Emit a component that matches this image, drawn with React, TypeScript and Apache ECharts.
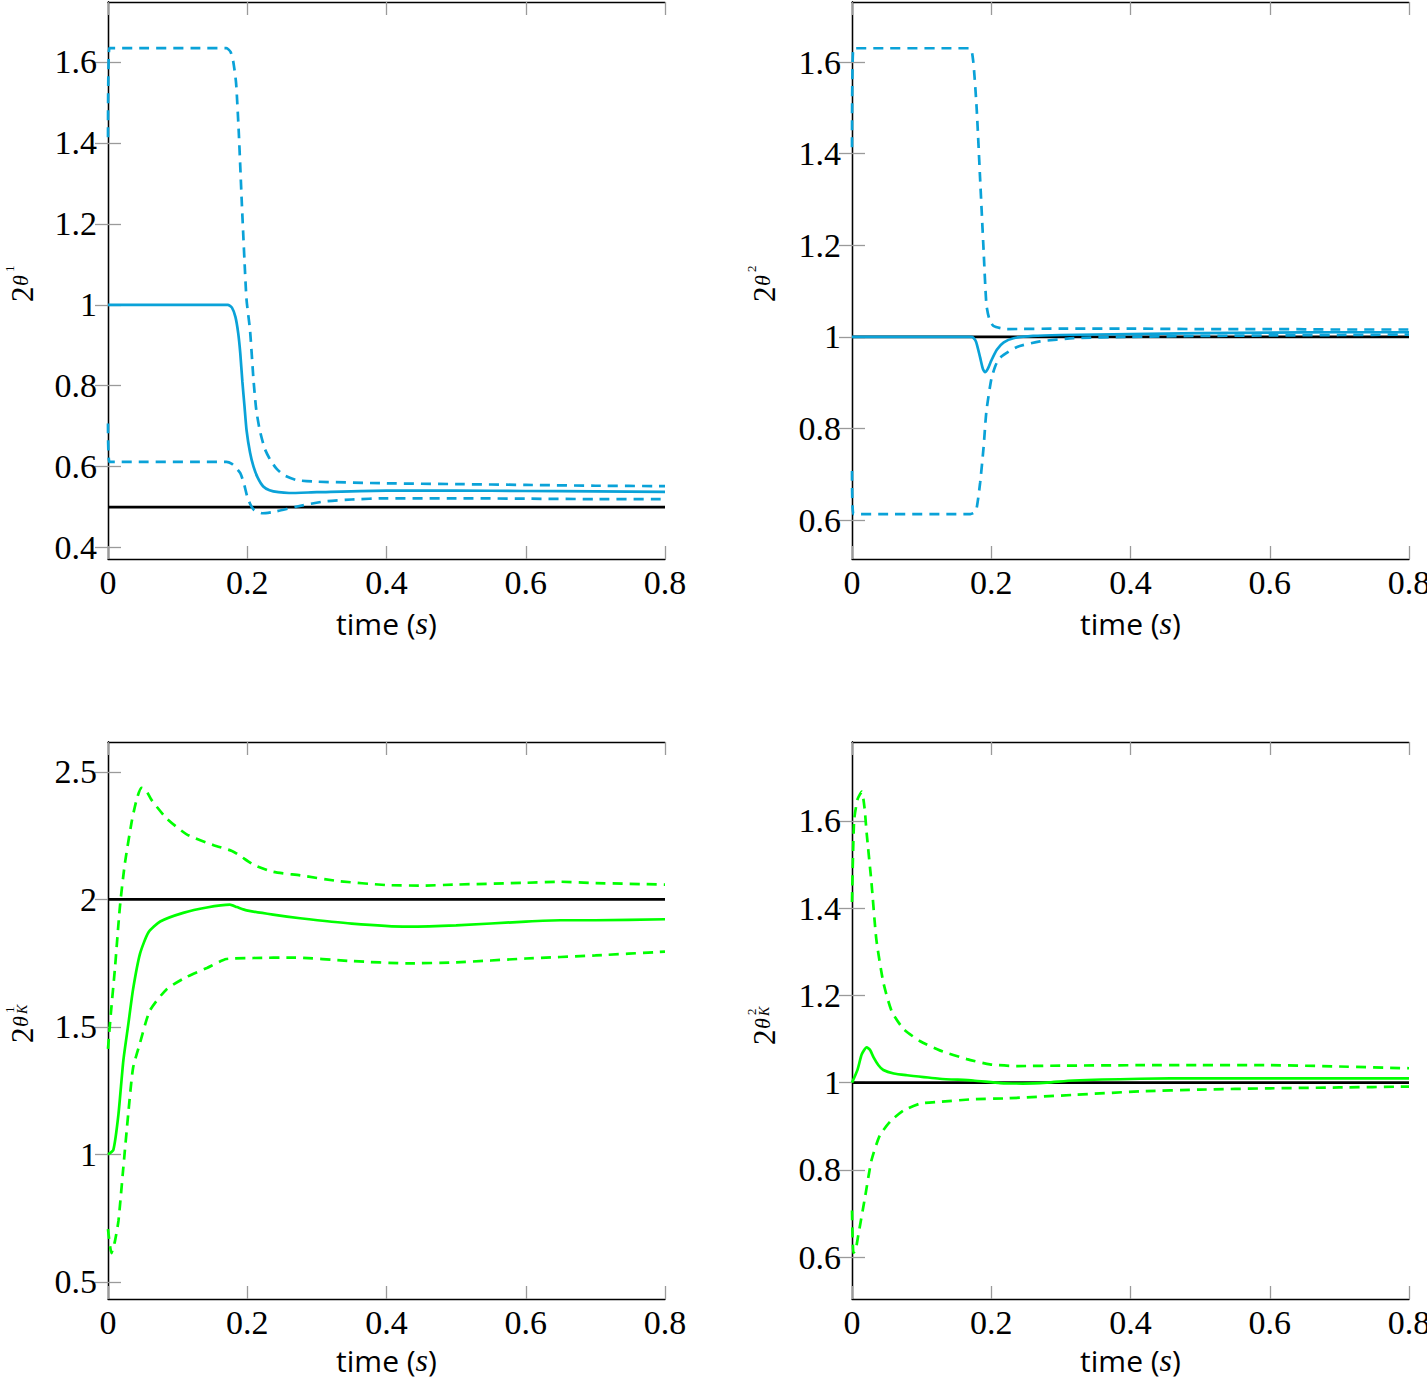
import React, { useEffect, useRef } from "react";
import * as echarts from "echarts";

// ---------- data ----------
const xTicks = [0, 0.2, 0.4, 0.6, 0.8];
const p1Ticks = [0.4, 0.6, 0.8, 1.0, 1.2, 1.4, 1.6];
const p2Ticks = [0.6, 0.8, 1.0, 1.2, 1.4, 1.6];
const p3Ticks = [0.5, 1.0, 1.5, 2.0, 2.5];
const p4Ticks = [0.6, 0.8, 1.0, 1.2, 1.4, 1.6];

// panel 1 (2^theta1)
const p1SolidT = [0, 0.172, 0.178, 0.183, 0.187, 0.19, 0.193, 0.196, 0.199, 0.204, 0.209, 0.215, 0.223, 0.232, 0.245, 0.26, 0.3, 0.4, 0.5, 0.6, 0.7, 0.8];
const p1SolidV = [1.0, 1.0, 0.993, 0.97, 0.93, 0.88, 0.81, 0.75, 0.69, 0.635, 0.6, 0.573, 0.551, 0.542, 0.537, 0.535, 0.537, 0.541, 0.541, 0.54, 0.539, 0.538];
const p1UpperT = [0, 0.002, 0.17, 0.176, 0.18, 0.184, 0.188, 0.192, 0.196, 0.199, 0.204, 0.209, 0.213, 0.218, 0.225, 0.233, 0.242, 0.252, 0.271, 0.3, 0.4, 0.5, 0.6, 0.7, 0.8];
const p1UpperV = [1.414, 1.634, 1.634, 1.625, 1.6, 1.547, 1.42, 1.259, 1.11, 1.012, 0.937, 0.814, 0.74, 0.69, 0.645, 0.617, 0.595, 0.58, 0.567, 0.563, 0.559, 0.557, 0.555, 0.553, 0.552];
const p1LowerT = [0, 0.002, 0.17, 0.178, 0.184, 0.19, 0.195, 0.2, 0.205, 0.21, 0.222, 0.24, 0.27, 0.31, 0.35, 0.4, 0.5, 0.6, 0.7, 0.8];
const p1LowerV = [0.707, 0.612, 0.612, 0.607, 0.597, 0.584, 0.56, 0.526, 0.505, 0.493, 0.485, 0.489, 0.501, 0.514, 0.519, 0.522, 0.522, 0.521, 0.52, 0.52];
const p1Ref = 0.5;

// panel 2 (2^theta2)
const p2SolidT = [0, 0.172, 0.178, 0.184, 0.188, 0.191, 0.195, 0.2, 0.208, 0.218, 0.232, 0.26, 0.3, 0.4, 0.5, 0.6, 0.7, 0.8];
const p2SolidV = [1.0, 1.0, 0.99, 0.955, 0.93, 0.923, 0.93, 0.948, 0.972, 0.988, 0.997, 1.002, 1.004, 1.006, 1.008, 1.009, 1.01, 1.01];
const p2UpperT = [0, 0.002, 0.169, 0.174, 0.179, 0.184, 0.189, 0.193, 0.197, 0.203, 0.222, 0.3, 0.4, 0.5, 0.6, 0.7, 0.8];
const p2UpperV = [1.414, 1.63, 1.63, 1.603, 1.5, 1.345, 1.189, 1.071, 1.04, 1.024, 1.017, 1.018, 1.018, 1.017, 1.017, 1.016, 1.016];
const p2LowerT = [0, 0.002, 0.17, 0.175, 0.179, 0.184, 0.189, 0.193, 0.2, 0.206, 0.213, 0.237, 0.27, 0.318, 0.4, 0.5, 0.6, 0.7, 0.8];
const p2LowerV = [0.707, 0.613, 0.613, 0.616, 0.626, 0.681, 0.759, 0.837, 0.907, 0.937, 0.955, 0.978, 0.99, 0.997, 1.0, 1.002, 1.003, 1.004, 1.005];
const p2Ref = 1.0;

// panel 3 (2^theta1_K)
const p3SolidT = [0, 0.0077, 0.015, 0.022, 0.029, 0.036, 0.046, 0.058, 0.075, 0.108, 0.142, 0.175, 0.185, 0.199, 0.237, 0.276, 0.35, 0.43, 0.5, 0.6, 0.65, 0.7, 0.8];
const p3SolidV = [1.0, 1.018, 1.157, 1.367, 1.507, 1.647, 1.787, 1.87, 1.913, 1.947, 1.968, 1.979, 1.97, 1.957, 1.94, 1.926, 1.905, 1.893, 1.898, 1.913, 1.918, 1.918, 1.922];
const p3UpperT = [0, 0.004, 0.01, 0.017, 0.024, 0.034, 0.041, 0.048, 0.054, 0.063, 0.084, 0.113, 0.151, 0.178, 0.19, 0.209, 0.237, 0.276, 0.33, 0.4, 0.45, 0.5, 0.6, 0.65, 0.7, 0.8];
const p3UpperV = [1.414, 1.55, 1.73, 1.968, 2.136, 2.304, 2.39, 2.437, 2.43, 2.388, 2.318, 2.255, 2.213, 2.19, 2.17, 2.136, 2.108, 2.094, 2.072, 2.056, 2.054, 2.058, 2.065, 2.069, 2.064, 2.058];
const p3LowerT = [0, 0.005, 0.01, 0.015, 0.022, 0.029, 0.036, 0.046, 0.06, 0.084, 0.113, 0.142, 0.17, 0.209, 0.266, 0.35, 0.43, 0.5, 0.6, 0.7, 0.8];
const p3LowerV = [0.707, 0.613, 0.66, 0.739, 0.948, 1.157, 1.339, 1.437, 1.563, 1.647, 1.696, 1.731, 1.766, 1.77, 1.772, 1.758, 1.749, 1.753, 1.768, 1.78, 1.795];
const p3Ref = 2.0;

// panel 4 (2^theta2_K)
const p4SolidT = [0, 0.008, 0.014, 0.021, 0.026, 0.031, 0.038, 0.045, 0.06, 0.079, 0.126, 0.174, 0.213, 0.245, 0.28, 0.318, 0.414, 0.5, 0.6, 0.7, 0.8];
const p4SolidV = [1.0, 1.03, 1.065, 1.081, 1.075, 1.058, 1.04, 1.029, 1.021, 1.017, 1.009, 1.005, 0.999, 0.998, 1.0, 1.005, 1.009, 1.01, 1.01, 1.01, 1.01];
const p4UpperT = [0, 0.003, 0.008, 0.014, 0.018, 0.021, 0.028, 0.035, 0.045, 0.057, 0.074, 0.098, 0.126, 0.165, 0.198, 0.237, 0.3, 0.414, 0.5, 0.6, 0.7, 0.8];
const p4UpperV = [1.414, 1.6, 1.65, 1.667, 1.63, 1.573, 1.458, 1.328, 1.23, 1.164, 1.123, 1.095, 1.074, 1.054, 1.042, 1.038, 1.039, 1.04, 1.04, 1.04, 1.037, 1.033];
const p4LowerT = [0, 0.002, 0.005, 0.009, 0.019, 0.028, 0.04, 0.055, 0.074, 0.098, 0.126, 0.174, 0.222, 0.318, 0.414, 0.5, 0.6, 0.7, 0.8];
const p4LowerV = [0.707, 0.61, 0.615, 0.65, 0.74, 0.822, 0.879, 0.911, 0.936, 0.952, 0.956, 0.962, 0.964, 0.972, 0.98, 0.984, 0.987, 0.989, 0.991];
const p4Ref = 1.0;

// ---------- styling ----------
const SERIF = "Liberation Serif";
const SANS = "Open Sans";
const BLUE = "#0aa2d8";
const GREEN = "#00ff00";
const TICK = "#9a9a9a";

const zip = (t: number[], v: number[]) => t.map((x, i) => [x, v[i]]);

const panels = [
  { left: 108, top: 2, min: 0.372, max: 1.748, ticks: p1Ticks, color: BLUE, solid: zip(p1SolidT, p1SolidV), upper: zip(p1UpperT, p1UpperV), lower: zip(p1LowerT, p1LowerV), ref: p1Ref, sup: "1", sub: false, lx: 33, ly: 302, gap: 50 },
  { left: 852, top: 2, min: 0.515, max: 1.731, ticks: p2Ticks, color: BLUE, solid: zip(p2SolidT, p2SolidV), upper: zip(p2UpperT, p2UpperV), lower: zip(p2LowerT, p2LowerV), ref: p2Ref, sup: "2", sub: false, lx: 775, ly: 302, gap: 50 },
  { left: 108, top: 742, min: 0.433, max: 2.617, ticks: p3Ticks, color: GREEN, solid: zip(p3SolidT, p3SolidV), upper: zip(p3UpperT, p3UpperV), lower: zip(p3LowerT, p3LowerV), ref: p3Ref, sup: "1", sub: true, lx: 33, ly: 1043, gap: 47 },
  { left: 852, top: 742, min: 0.504, max: 1.781, ticks: p4Ticks, color: GREEN, solid: zip(p4SolidT, p4SolidV), upper: zip(p4UpperT, p4UpperV), lower: zip(p4LowerT, p4LowerV), ref: p4Ref, sup: "2", sub: true, lx: 775, ly: 1045, gap: 47 },
];

const fmt = (v: number) => String(+(+v).toFixed(2));

function buildOption() {
  const grid: any[] = [];
  const xAxis: any[] = [];
  const yAxis: any[] = [];
  const series: any[] = [];
  const graphic: any[] = [];

  panels.forEach((p, i) => {
    grid.push({ left: p.left, top: p.top, width: 557, height: 557, containLabel: false, outerBoundsMode: "none" });
    const axLine = { show: true, lineStyle: { color: "#000", width: 1.3 } };
    const tick = { show: true, inside: true, length: 13, lineStyle: { color: TICK, width: 1.3 } };
    xAxis.push({
      type: "value", gridIndex: i, min: 0, max: 0.8, interval: 0.2, position: "bottom",
      axisLine: axLine, axisTick: tick, splitLine: { show: false },
      axisLabel: { fontFamily: SERIF, fontSize: 34, color: "#000", margin: 6, formatter: fmt, hideOverlap: false },
      name: "{a|time (}{b|s}{a|)}", nameLocation: "middle", nameGap: p.gap,
      nameTextStyle: {
        lineHeight: 28,
        rich: {
          a: { fontFamily: SANS, fontSize: 30, color: "#000", lineHeight: 28 },
          b: { fontFamily: SERIF, fontStyle: "italic", fontSize: 32, color: "#000", lineHeight: 28 },
        },
      },
    });
    xAxis.push({
      type: "value", gridIndex: i, min: 0, max: 0.8, interval: 0.2, position: "top",
      axisLine: axLine, axisTick: tick, splitLine: { show: false }, axisLabel: { show: false },
    });
    yAxis.push({
      type: "value", gridIndex: i, min: p.min, max: p.max, position: "left",
      axisLine: axLine, splitLine: { show: false },
      axisTick: { ...tick, customValues: p.ticks },
      axisLabel: { fontFamily: SERIF, fontSize: 34, color: "#000", margin: 11, formatter: fmt, customValues: p.ticks },
    });
    yAxis.push({
      type: "value", gridIndex: i, min: p.min, max: p.max, position: "right",
      axisLine: axLine, splitLine: { show: false },
      axisTick: { ...tick, customValues: p.ticks },
      axisLabel: { show: false },
    });
    const xi = i * 2;
    const yi = i * 2;
    const base = { type: "line", xAxisIndex: xi, yAxisIndex: yi, showSymbol: false, symbol: "none", silent: true };
    series.push({ ...base, data: [[0, p.ref], [0.8, p.ref]], lineStyle: { color: "#000", width: 2.7 } });
    series.push({ ...base, data: p.upper, smooth: 0.2, lineStyle: { color: p.color, width: 2.7, type: [10, 7] } });
    series.push({ ...base, data: p.lower, smooth: 0.2, lineStyle: { color: p.color, width: 2.7, type: [10, 7] } });
    series.push({ ...base, data: p.solid, smooth: 0.2, lineStyle: { color: p.color, width: 2.7 } });

    const children: any[] = [
      { type: "text", x: 0, y: -10.5, style: { text: "2", font: `31px ${SERIF}`, fill: "#000", align: "left", verticalAlign: "middle" } },
      { type: "text", x: 16, y: -13, style: { text: "θ", font: `italic 22px ${SERIF}`, fill: "#000", align: "left", verticalAlign: "middle" } },
      { type: "text", x: 30, y: -24, style: { text: p.sup, font: `13px ${SERIF}`, fill: "#000", align: "left", verticalAlign: "middle" } },
    ];
    if (p.sub) {
      children.push({ type: "text", x: 29, y: -11, style: { text: "K", font: `italic 14px ${SERIF}`, fill: "#000", align: "left", verticalAlign: "middle" } });
    }
    graphic.push({ type: "group", x: p.lx, y: p.ly, rotation: Math.PI / 2, children });
  });

  return { animation: false, backgroundColor: "#fff", grid, xAxis, yAxis, series, graphic };
}

export default function App() {
  const ref = useRef<HTMLDivElement>(null);
  useEffect(() => {
    if (!ref.current) return;
    const chart = echarts.init(ref.current, null, { renderer: "svg" });
    chart.setOption(buildOption() as any);
    return () => chart.dispose();
  }, []);
  return <div ref={ref} style={{ position: "absolute", left: 0, top: 0, width: 1427, height: 1382 }} />;
}
